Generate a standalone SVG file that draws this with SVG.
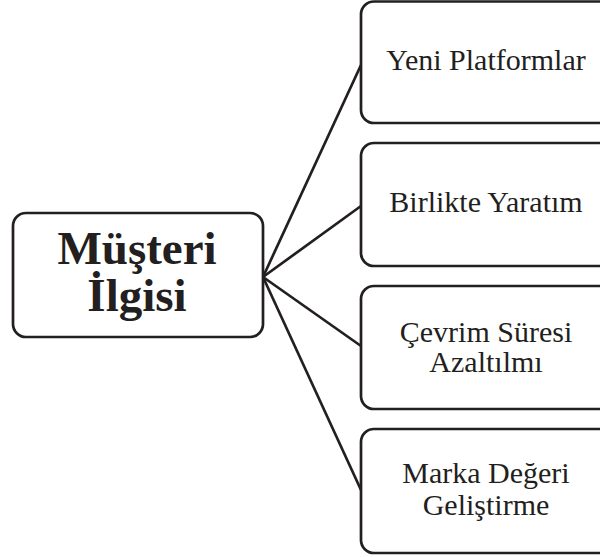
<svg xmlns="http://www.w3.org/2000/svg" width="600" height="557" viewBox="0 0 600 557">
  <defs>
    <style>
      .box { fill: #ffffff; stroke: #231f20; stroke-width: 2.7; }
      .link { stroke: #231f20; stroke-width: 2.7; fill: none; }
      .title { font-weight: bold; font-size: 47px; fill: #231f20; text-anchor: middle; }
      .label { font-size: 30px; fill: #231f20; text-anchor: middle; }
    </style>
  </defs>
  <rect width="600" height="557" fill="#ffffff"/>

  <g id="connectors">
    <line class="link" x1="263" y1="277" x2="361" y2="65"/>
    <line class="link" x1="263" y1="277" x2="361" y2="206"/>
    <line class="link" x1="263" y1="277" x2="361" y2="346"/>
    <line class="link" x1="263" y1="277" x2="361" y2="490"/>
  </g>

  <g font-family="'Liberation Serif', 'Times New Roman', serif">
    <g id="musteri-ilgisi">
      <rect class="box" x="13" y="213" width="250" height="124" rx="13" ry="13"/>
      <text class="title" x="137" y="264">Müşteri</text>
      <text class="title" x="137" y="311">İlgisi</text>
    </g>

    <g id="yeni-platformlar">
      <rect class="box" x="361" y="1.5" width="252" height="121.5" rx="13" ry="13"/>
      <text class="label" x="486" y="70">Yeni Platformlar</text>
    </g>

    <g id="birlikte-yaratim">
      <rect class="box" x="361" y="143" width="252" height="123" rx="13" ry="13"/>
      <text class="label" x="486" y="212">Birlikte Yaratım</text>
    </g>

    <g id="cevrim-suresi">
      <rect class="box" x="361" y="286" width="252" height="123" rx="13" ry="13"/>
      <text class="label" x="486" y="342">Çevrim Süresi</text>
      <text class="label" x="486" y="372">Azaltılmı</text>
    </g>

    <g id="marka-degeri">
      <rect class="box" x="361" y="429" width="252" height="124" rx="13" ry="13"/>
      <text class="label" x="486" y="483">Marka Değeri</text>
      <text class="label" x="486" y="515">Geliştirme</text>
    </g>
  </g>
</svg>
